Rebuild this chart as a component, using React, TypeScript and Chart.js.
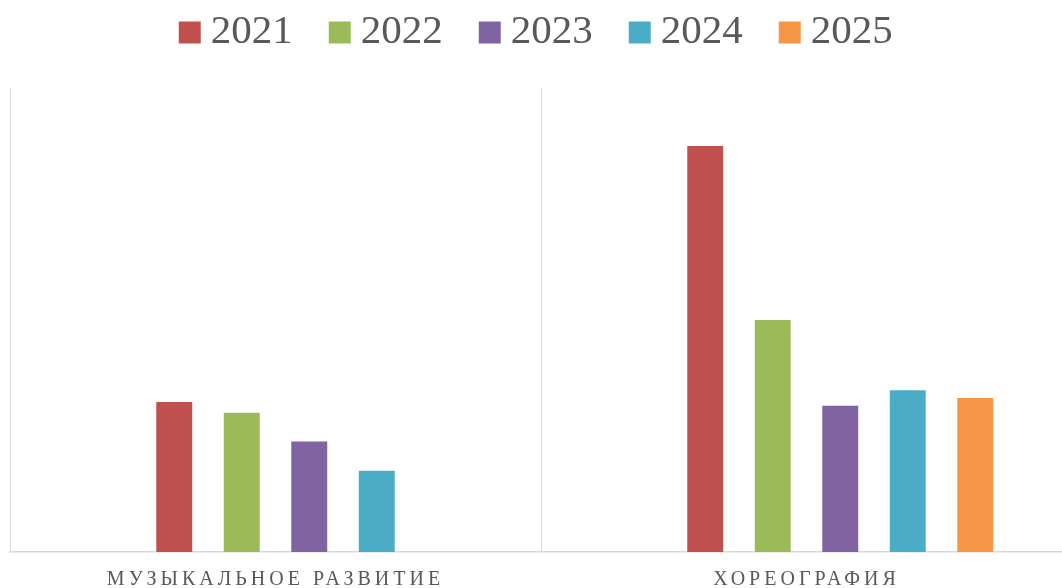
import React, { useEffect, useRef } from 'react';
import { Chart, registerables } from 'chart.js';

Chart.register(...registerables);

const categories = ['МУЗЫКАЛЬНОЕ РАЗВИТИЕ', 'ХОРЕОГРАФИЯ'];
// first slot is an empty series with no legend entry (the chart keeps a blank slot on the left)
const seriesLabels = ['', '2021', '2022', '2023', '2024', '2025'];
const blankSeries: (number | null)[] = [null, null];
const values2021: (number | null)[] = [19.4, 52.5];
const values2022: (number | null)[] = [18.0, 30.0];
const values2023: (number | null)[] = [14.3, 18.9];
const values2024: (number | null)[] = [10.5, 20.9];
const values2025: (number | null)[] = [null, 19.9];
const seriesColors = ['rgba(0,0,0,0)', '#C0504D', '#9BBB59', '#8064A2', '#4BACC6', '#F79646'];
const yMax = 60;

const FONT = '"Liberation Serif", "Times New Roman", serif';

const letterSpacingPlugin = {
  id: 'tickLetterSpacing',
  afterDatasetsDraw(chart: any) {
    (chart.ctx as any).letterSpacing = '4px';
  },
  afterDraw(chart: any) {
    (chart.ctx as any).letterSpacing = '0px';
  },
};

export default function App() {
  const ref = useRef<HTMLCanvasElement>(null);

  useEffect(() => {
    if (!ref.current) return;
    const allValues = [blankSeries, values2021, values2022, values2023, values2024, values2025];
    const defaultGen = (Chart as any).defaults.plugins.legend.labels.generateLabels;
    const chart = new Chart(ref.current, {
      type: 'bar',
      data: {
        labels: categories,
        datasets: allValues.map((vals, i) => ({
          label: seriesLabels[i],
          data: vals,
          backgroundColor: seriesColors[i],
          borderWidth: 0,
          categoryPercentage: 0.7627,
          barPercentage: 0.533,
        })),
      },
      options: {
        responsive: false,
        animation: false,
        layout: { padding: { top: -34.5, left: 10, right: 10, bottom: 3 } },
        plugins: {
          tooltip: { enabled: false },
          legend: {
            position: 'top',
            align: 'center',
            labels: {
              boxWidth: 1,
              boxHeight: 1,
              padding: 46.5,
              color: '#595959',
              font: { family: FONT, size: 41 },
              filter: (item: any) => item.text !== '',
              generateLabels: (c: any) =>
                defaultGen(c).map((it: any) => ({
                  ...it,
                  strokeStyle: it.fillStyle,
                  lineWidth: 21,
                  lineJoin: 'miter',
                })),
            },
          },
        },
        scales: {
          x: {
            position: 'bottom',
            grid: { display: true, color: '#d9d9d9', lineWidth: 1, drawTicks: false, offset: true },
            border: { display: true, color: '#d9d9d9', width: 1.5 },
            ticks: {
              color: '#595959',
              padding: 15.5,
              z: 1,
              font: { family: FONT, size: 20, lineHeight: 1.2 },
              maxRotation: 0,
            },
          },
          xTop: {
            type: 'category',
            position: 'top',
            grid: { display: false, drawTicks: false },
            border: { display: false },
            ticks: { display: false },
            afterFit: (s: any) => {
              s.height = 25;
            },
          },
          y: {
            display: false,
            min: 0,
            max: yMax,
          },
        },
      },
      plugins: [letterSpacingPlugin],
    } as any);
    return () => chart.destroy();
  }, []);

  return (
    <div style={{ position: 'fixed', left: 0, top: 0, width: 1062, height: 588, overflow: 'hidden', background: '#fff' }}>
      <canvas ref={ref} width={1082} height={610} style={{ display: 'block' }} />
    </div>
  );
}
